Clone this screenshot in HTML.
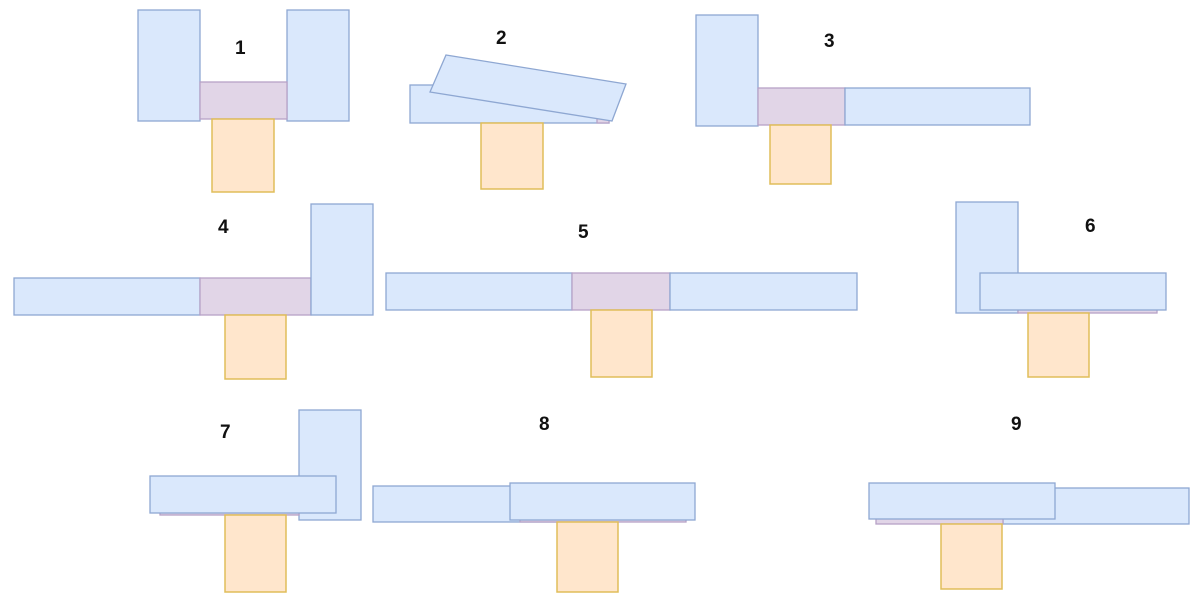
<!DOCTYPE html>
<html><head><style>html,body{margin:0;padding:0;background:#fff}svg{display:block}</style></head>
<body>
<svg width="1200" height="600" viewBox="0 0 1200 600" xmlns="http://www.w3.org/2000/svg">
<style>
.b{fill:#dae8fc;stroke:#8ea7d2;stroke-width:1.3}
.p{fill:#e1d5e7;stroke:#b7a2c7;stroke-width:1.3}
.o{fill:#ffe6cc;stroke:#e0bd5a;stroke-width:1.5}
text{font-family:"Liberation Sans",sans-serif;font-weight:bold;font-size:19px;fill:#111}
</style>
<!-- 1 -->
<rect class="b" x="138" y="10" width="62" height="111"/>
<rect class="b" x="287" y="10" width="62" height="111"/>
<rect class="p" x="200" y="82" width="87" height="37"/>
<rect class="o" x="212" y="119" width="62" height="73"/>
<text x="235" y="54">1</text>
<!-- 2 -->
<rect class="b" x="410" y="85" width="199" height="38"/>
<rect class="p" x="597" y="118" width="12" height="5"/>
<rect class="o" x="481" y="123" width="62" height="66"/>
<polygon class="b" points="446,55 626,84 612,121 430,92"/>
<text x="496" y="44">2</text>
<!-- 3 -->
<rect class="b" x="696" y="15" width="62" height="111"/>
<rect class="p" x="758" y="88" width="87" height="37"/>
<rect class="b" x="845" y="88" width="185" height="37"/>
<rect class="o" x="770" y="125" width="61" height="59"/>
<text x="824" y="47">3</text>
<!-- 4 -->
<rect class="b" x="14" y="278" width="186" height="37"/>
<rect class="p" x="200" y="278" width="111" height="37"/>
<rect class="b" x="311" y="204" width="62" height="111"/>
<rect class="o" x="225" y="315" width="61" height="64"/>
<text x="218" y="233">4</text>
<!-- 5 -->
<rect class="b" x="386" y="273" width="186" height="37"/>
<rect class="p" x="572" y="273" width="98" height="37"/>
<rect class="b" x="670" y="273" width="187" height="37"/>
<rect class="o" x="591" y="310" width="61" height="67"/>
<text x="578" y="238">5</text>
<!-- 6 -->
<rect class="b" x="956" y="202" width="62" height="111"/>
<rect class="p" x="1018" y="308" width="139" height="5"/>
<rect class="b" x="980" y="273" width="186" height="37"/>
<rect class="o" x="1028" y="313" width="61" height="64"/>
<text x="1085" y="232">6</text>
<!-- 7 -->
<rect class="b" x="299" y="410" width="62" height="110"/>
<rect class="p" x="160" y="511" width="139" height="4"/>
<rect class="b" x="150" y="476" width="186" height="37"/>
<rect class="o" x="225" y="515" width="61" height="77"/>
<text x="220" y="438">7</text>
<!-- 8 -->
<rect class="b" x="373" y="486" width="186" height="36"/>
<rect class="p" x="520" y="518" width="166" height="4"/>
<rect class="b" x="510" y="483" width="185" height="37"/>
<rect class="o" x="557" y="522" width="61" height="70"/>
<text x="539" y="430">8</text>
<!-- 9 -->
<rect class="b" x="1003" y="488" width="186" height="36"/>
<rect class="p" x="876" y="517" width="127" height="7"/>
<rect class="b" x="869" y="483" width="186" height="36"/>
<rect class="o" x="941" y="524" width="61" height="65"/>
<text x="1011" y="430">9</text>
</svg>
</body></html>
